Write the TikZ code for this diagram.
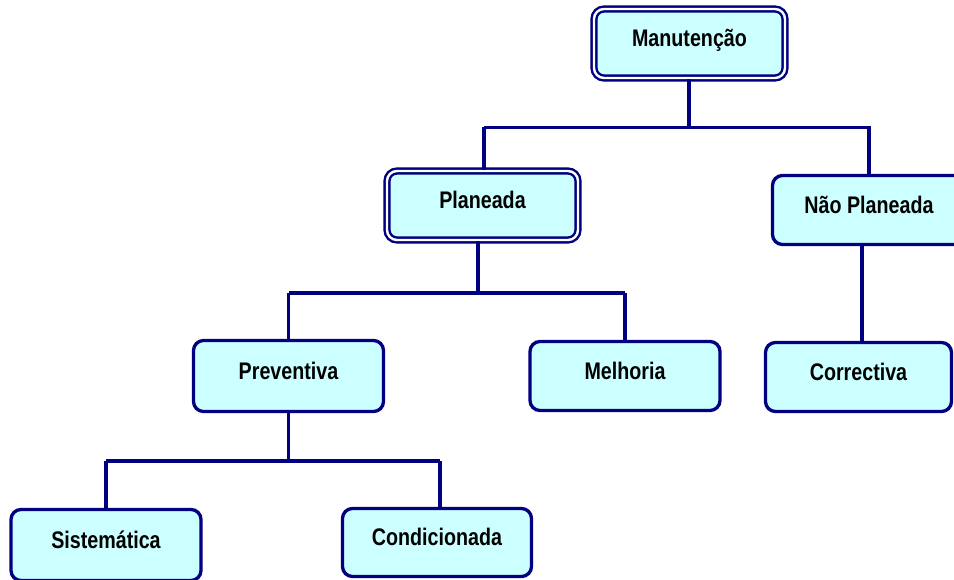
\documentclass[tikz,border=0pt]{standalone}
\usepackage{fontspec}
\setmainfont{Liberation Sans}
\newfontfamily\narrowfont[FakeStretch=0.82]{Liberation Sans}
\definecolor{navyline}{RGB}{0,0,128}
\definecolor{boxfill}{RGB}{204,255,255}
\begin{document}
\begin{tikzpicture}[x=1pt,y=-1pt,
  base/.style={rectangle, rounded corners=10pt, fill=boxfill, inner sep=0pt,
    font=\narrowfont\bfseries\fontsize{24}{28}\selectfont, text height=18pt, text depth=11.8pt},
  singlebox/.style={base, draw=navyline, line width=3.3pt, minimum width=190pt, minimum height=70pt},
  doublebox/.style={base, draw=navyline, line width=2.4pt, double=white, double distance=2.4pt,
    minimum width=191pt, minimum height=69pt},
  conn/.style={draw=navyline, line width=3.2pt}]
\clip (0,0) rectangle (954,580);
\fill[white] (0,0) rectangle (954,580);

\node[doublebox] (man) at (689.5,43.5) {Manutenção};
\node[doublebox] (plan) at (482.5,205.5) {Planeada};
\node[singlebox, minimum width=193pt, minimum height=69pt] (nplan) at (869,210) {Não Planeada};
\node[singlebox, minimum height=71pt] (prev) at (288.5,376) {Preventiva};
\node[singlebox, minimum height=69pt] (melh) at (625,376) {Melhoria};
\node[singlebox, minimum width=186pt, minimum height=69pt] (corr) at (858.5,377) {Correctiva};
\node[singlebox, minimum height=71pt] (sist) at (106,545) {Sistemática};
\node[singlebox, minimum width=189pt, minimum height=68pt] (cond) at (437,542.5) {Condicionada};

% level 1 bar
\coordinate (b1) at (689,127.5);
\coordinate (b1l) at (484,127.5);
\coordinate (b1r) at (871,127.5);
\draw[conn] (man.south -| b1) -- (b1);
\draw[conn] (b1l) -- (b1r);
\draw[conn] (b1l) -- (plan.north -| b1l);
\draw[conn] (869,127.5) -- (nplan.north);

% level 2 bar
\coordinate (b2) at (478,293);
\coordinate (b2l) at (288.5,293);
\coordinate (b2r) at (625,293);
\draw[conn] (plan.south -| b2) -- (b2);
\draw[conn] (b2l) -- (b2r);
\draw[conn] (b2l) -- (prev.north);
\draw[conn] (b2r) -- (melh.north);

% nao planeada to correctiva
\coordinate (c1) at (862,0);
\draw[conn] (nplan.south -| c1) -- (corr.north -| c1);

% level 3 bar
\coordinate (b3) at (288.5,461);
\coordinate (b3l) at (106,461);
\coordinate (b3r) at (440,461);
\draw[conn] (prev.south) -- (b3);
\draw[conn] (b3l) -- (b3r);
\draw[conn] (b3l) -- (sist.north);
\draw[conn] (b3r) -- (cond.north -| b3r);
\end{tikzpicture}
\end{document}
